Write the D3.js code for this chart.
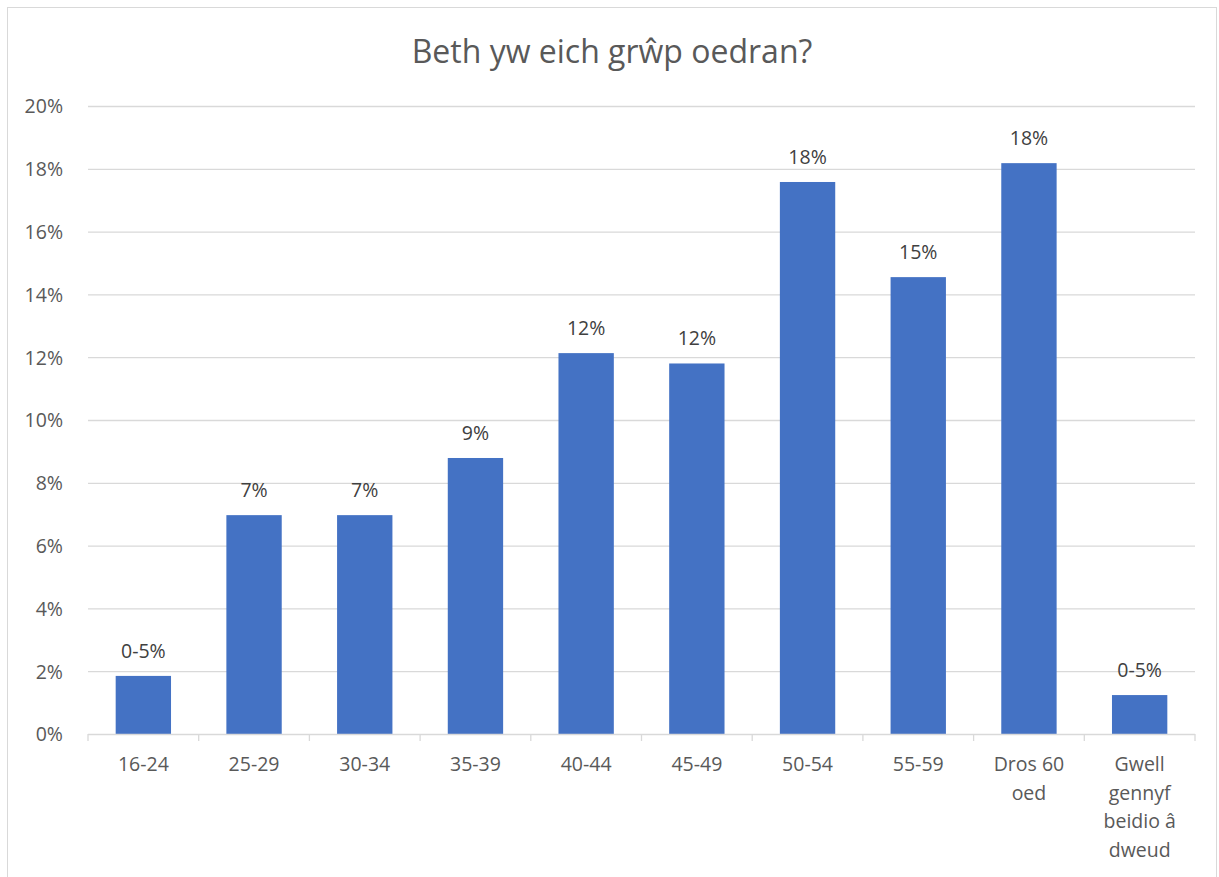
<html>
<head>
  <meta charset="utf-8">
  <title>Beth yw eich grŵp oedran?</title>
</head>
<style>
  body {
    margin: 0;
    background: #fff;
    font-family: 'Open Sans', 'Noto Sans', sans-serif;
  }
</style>
<body>
  <div id="chart"></div>
</body>
<script src="https://cdn.jsdelivr.net/npm/d3@7"></script>
<script>
  const categories = ["16-24", "25-29", "30-34", "35-39", "40-44", "45-49", "50-54", "55-59", "Dros 60 oed", "Gwell gennyf beidio â dweud"]
  const values = [1.85, 6.97, 6.97, 8.79, 12.13, 11.8, 17.58, 14.55, 18.18, 1.24]
  const valueLabels = ["0-5%", "7%", "7%", "9%", "12%", "12%", "18%", "15%", "18%", "0-5%"]
  const yTicks = [0, 2, 4, 6, 8, 10, 12, 14, 16, 18, 20]
  const title = "Beth yw eich grŵp oedran?"

  const W = 1219, H = 877
  const plot = { left: 88, right: 1195, top: 106, bottom: 734 }
  const textColor = "#595959"
  const fs = 19.5

  const svg = d3.select("#chart").append("svg")
    .attr("width", W).attr("height", H)

  // chart frame
  svg.append("rect")
    .attr("x", 7.5).attr("y", 7.5)
    .attr("width", W - 10).attr("height", H)
    .attr("fill", "#fff").attr("stroke", "#d9d9d9")

  svg.append("text")
    .attr("x", 612).attr("y", 63)
    .attr("text-anchor", "middle")
    .attr("font-size", 32)
    .attr("fill", textColor)
    .text(title)

  const x = d3.scaleBand().domain(categories)
    .range([plot.left, plot.right]).paddingInner(0.5).paddingOuter(0.25)
  const y = d3.scaleLinear().domain([0, 20]).range([plot.bottom, plot.top])

  //gridlines
  svg.append("g").selectAll("line").data(yTicks.slice(1)).join("line")
    .attr("x1", plot.left).attr("x2", plot.right)
    .attr("y1", d => y(d) + 0.5).attr("y2", d => y(d) + 0.5)
    .attr("stroke", "#d9d9d9").attr("stroke-width", 1.3)

  //y axis labels
  const yAxis = svg.append("g")
    .attr("transform", `translate(${plot.left - 22},0)`)
    .call(d3.axisLeft(y).tickValues(yTicks).tickFormat(d => d + "%").tickSize(0))
  yAxis.select(".domain").remove()
  yAxis.selectAll("text")
    .attr("font-family", "'Open Sans', sans-serif")
    .attr("font-size", fs)
    .attr("fill", textColor)
    .attr("dy", "0.35em")

  //bars
  svg.append("g").selectAll("rect").data(values).join("rect")
    .attr("x", (d, i) => x(categories[i]))
    .attr("y", d => y(d))
    .attr("width", x.bandwidth())
    .attr("height", d => y(0) - y(d))
    .attr("fill", "#4472c4")

  //value labels
  svg.append("g").selectAll("text").data(values).join("text")
    .attr("x", (d, i) => x(categories[i]) + x.bandwidth() / 2)
    .attr("y", d => y(d) - 18)
    .attr("text-anchor", "middle")
    .attr("font-size", fs)
    .attr("fill", "#404040")
    .text((d, i) => valueLabels[i])

  //x axis
  const step = (plot.right - plot.left) / categories.length
  svg.append("line")
    .attr("x1", plot.left).attr("x2", plot.right)
    .attr("y1", plot.bottom + 0.5).attr("y2", plot.bottom + 0.5)
    .attr("stroke", "#d9d9d9").attr("stroke-width", 1.3)
  svg.append("g").selectAll("line").data(d3.range(categories.length + 1)).join("line")
    .attr("x1", i => plot.left + i * step).attr("x2", i => plot.left + i * step)
    .attr("y1", plot.bottom).attr("y2", plot.bottom + 7)
    .attr("stroke", "#d9d9d9").attr("stroke-width", 1.3)

  //wrapped category labels
  const wrapLines = {
    "Dros 60 oed": ["Dros 60", "oed"],
    "Gwell gennyf beidio â dweud": ["Gwell", "gennyf", "beidio â", "dweud"]
  }
  const xl = svg.append("g").selectAll("text").data(categories).join("text")
    .attr("x", d => x(d) + x.bandwidth() / 2)
    .attr("y", 771)
    .attr("text-anchor", "middle")
    .attr("font-size", fs)
    .attr("fill", textColor)
  xl.each(function (d) {
    const lines = wrapLines[d] || [d]
    d3.select(this).selectAll("tspan").data(lines).join("tspan")
      .attr("x", x(d) + x.bandwidth() / 2)
      .attr("dy", (l, i) => i == 0 ? 0 : 28.7)
      .text(l => l)
  })
</script>
</html>
